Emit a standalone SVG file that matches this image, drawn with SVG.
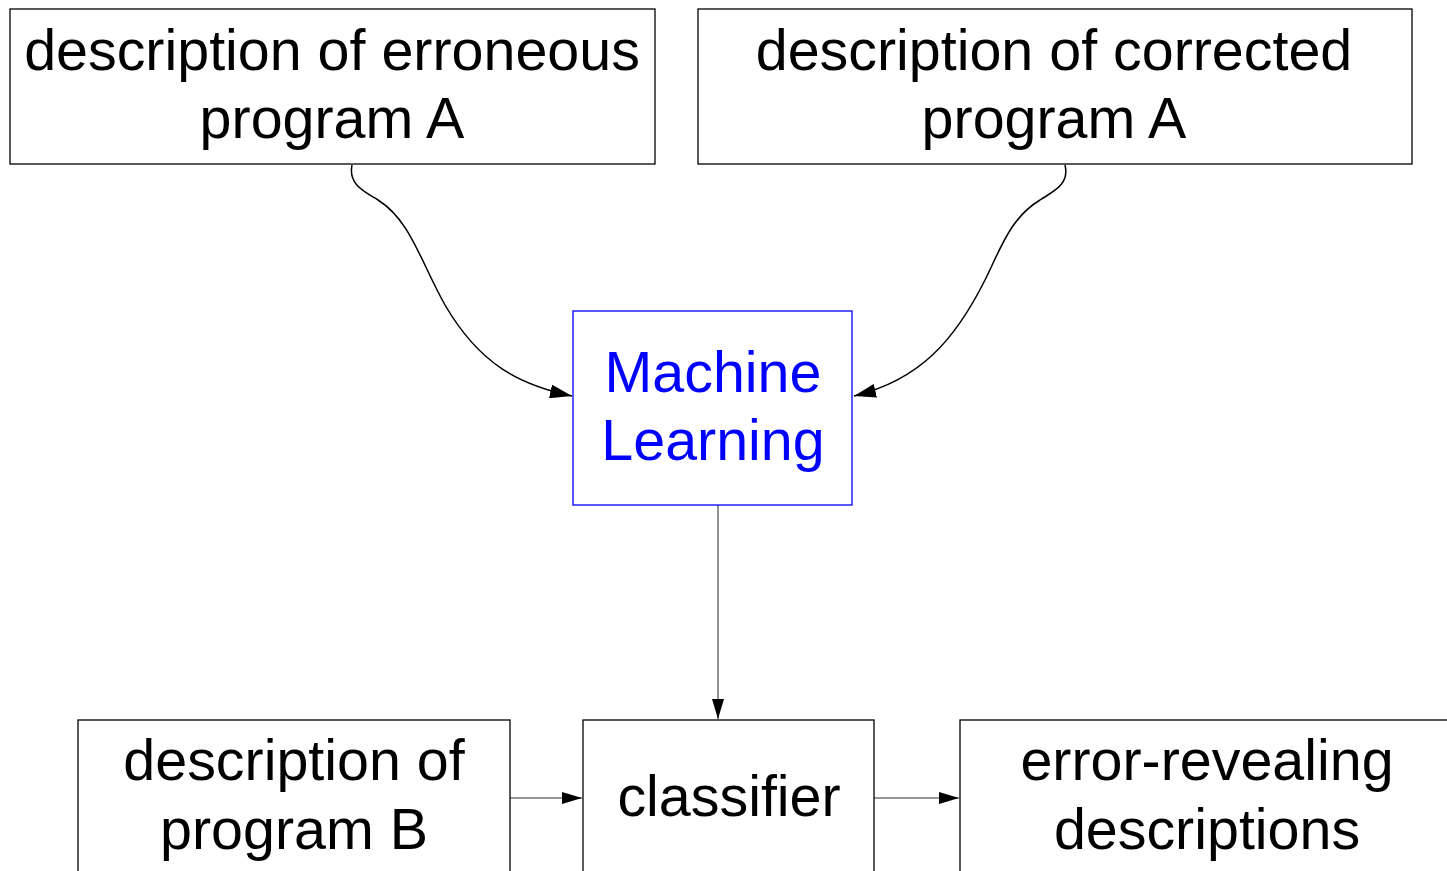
<svg xmlns="http://www.w3.org/2000/svg" width="1447" height="871" viewBox="0 0 1447 871">
  <style>
    .box { fill: #ffffff; stroke: #000000; stroke-width: 1.3; }
    .ml { fill: #ffffff; stroke: #0000ff; stroke-width: 1.3; }
    .lbl { font-family: "Liberation Sans", Arial, sans-serif; font-size: 57.4px; fill: #000000; text-anchor: middle; }
    .mltxt { fill: #0000ff; }
    .edge { fill: none; stroke: #000000; stroke-width: 1.5; }
    .straight { fill: none; stroke: #333333; stroke-width: 1.1; }
  </style>
  <defs>
    <marker id="arrow" viewBox="0 0 20 12" refX="20" refY="6" markerWidth="20" markerHeight="12" markerUnits="userSpaceOnUse" orient="auto">
      <path d="M0,0 L20,6 L0,12 Z" fill="#000000"/>
    </marker>
    <marker id="arrow-lg" viewBox="0 0 22 14" refX="22" refY="7" markerWidth="22" markerHeight="14" markerUnits="userSpaceOnUse" orient="auto">
      <path d="M0,0 L22,7 L0,14 Z" fill="#000000"/>
    </marker>
  </defs>
  <rect width="1447" height="871" fill="#ffffff"/>

  <g id="connectors">
    <path class="edge" d="M352,165 C348,185 365,192 378,200 C410,220 420,260 445,305 C480,365 520,385 572,396" marker-end="url(#arrow-lg)"/>
    <path class="edge" d="M1065,165 C1070,185 1052,192 1040,200 C1010,218 1000,250 985,280 C955,340 920,380 854,396" marker-end="url(#arrow-lg)"/>
    <line class="straight" x1="718" y1="505" x2="718" y2="719" marker-end="url(#arrow)"/>
    <line class="straight" x1="510" y1="798" x2="582" y2="798" marker-end="url(#arrow)"/>
    <line class="straight" x1="874" y1="798" x2="959" y2="798" marker-end="url(#arrow)"/>
  </g>

  <g id="erroneous">
    <rect class="box" x="10" y="9" width="645" height="155"/>
    <text class="lbl" x="332" y="70">description of erroneous</text>
    <text class="lbl" x="332" y="138">program A</text>
  </g>

  <g id="corrected">
    <rect class="box" x="698" y="9" width="714" height="155"/>
    <text class="lbl" x="1054" y="70">description of corrected</text>
    <text class="lbl" x="1054" y="138">program A</text>
  </g>

  <g id="machine-learning">
    <rect class="ml" x="573" y="311" width="279" height="194"/>
    <text class="lbl mltxt" x="713" y="392">Machine</text>
    <text class="lbl mltxt" x="713" y="460">Learning</text>
  </g>

  <g id="program-b">
    <rect class="box" x="78" y="720" width="432" height="160"/>
    <text class="lbl" x="294" y="780">description of</text>
    <text class="lbl" x="294" y="849">program B</text>
  </g>

  <g id="classifier">
    <rect class="box" x="583" y="720" width="291" height="160"/>
    <text class="lbl" x="729" y="816">classifier</text>
  </g>

  <g id="error-revealing">
    <rect class="box" x="960" y="720" width="500" height="160"/>
    <text class="lbl" x="1207" y="780">error-revealing</text>
    <text class="lbl" x="1207" y="849">descriptions</text>
  </g>
</svg>
